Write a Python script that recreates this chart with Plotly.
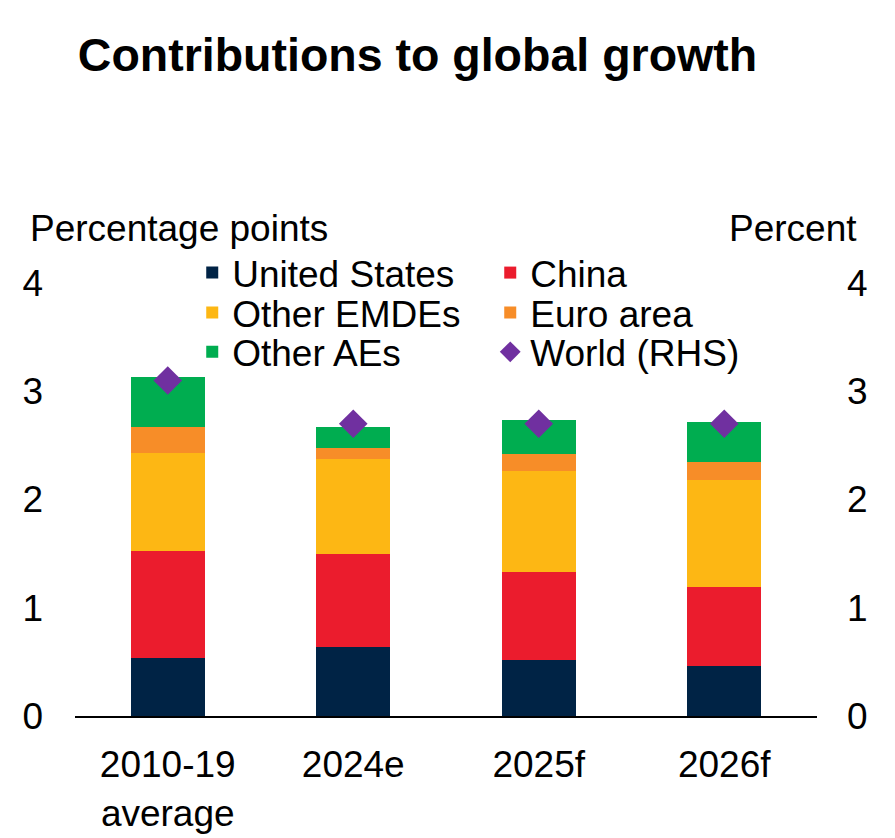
import plotly.graph_objects as go

categories = ["2010-19<br>average", "2024e", "2025f", "2026f"]
united_states = [0.54, 0.64, 0.52, 0.46]
china = [0.98, 0.86, 0.81, 0.73]
other_emdes = [0.91, 0.87, 0.93, 0.99]
euro_area = [0.24, 0.11, 0.16, 0.17]
other_aes = [0.46, 0.19, 0.31, 0.37]
world = [3.1, 2.7, 2.7, 2.7]
yticks = [0, 1, 2, 3, 4]

font_name = "Liberation Sans, Arial, sans-serif"

def plotChart():
    # (name, values, colour, legend row)
    series = [
        ("United States", united_states, "#002345", "legend"),
        ("China", china, "#EB1C2D", "legend"),
        ("Other EMDEs", other_emdes, "#FDB714", "legend2"),
        ("Euro area", euro_area, "#F78D28", "legend2"),
        ("Other AEs", other_aes, "#00AD50", "legend3"),
    ]
    data = []
    for name, vals, col, leg in series:
        data.append(go.Bar(x=categories, y=vals, name=name, legend=leg,
                           marker=dict(color=col, line=dict(width=0)),
                           width=0.4))
    data.append(go.Scatter(x=categories, y=world, name="World (RHS)", yaxis="y2",
                           legend="legend3", mode="markers",
                           marker=dict(symbol="diamond", size=22, color="#7030A0")))

    def leg_row(yp):
        return dict(orientation="h", x=0.158, xanchor="left", y=yp, yanchor="middle",
                    entrywidth=253, font=dict(size=37), bgcolor="rgba(0,0,0,0)",
                    traceorder="normal")

    layout = go.Layout(
        width=895, height=838,
        barmode="stack",
        plot_bgcolor="white", paper_bgcolor="white",
        margin=dict(l=67, r=86, t=275, b=122),
        font=dict(family=font_name, size=37, color="black"),
        title=dict(text="<b>Contributions to global growth</b>",
                   x=0.078, xanchor="left", y=0.944, yanchor="middle",
                   font=dict(size=46.5, color="black")),
        xaxis=dict(showgrid=False, showline=True, linecolor="black", linewidth=2,
                   ticks="", tickfont=dict(size=37), ticklabelstandoff=15),
        yaxis=dict(range=[0, 4], tickvals=yticks, showgrid=False, zeroline=False,
                   showline=False, ticks="", tickfont=dict(size=37),
                   ticklabelstandoff=31),
        yaxis2=dict(range=[0, 4], tickvals=yticks, overlaying="y", side="right",
                    showgrid=False, zeroline=False, showline=False, ticks="",
                    tickfont=dict(size=37), ticklabelstandoff=29),
        legend=leg_row(1.023),
        legend2=leg_row(0.931),
        legend3=leg_row(0.840),
        showlegend=True,
        annotations=[
            dict(text="Percentage points", xref="paper", yref="paper",
                 x=-0.063, y=1.126, xanchor="left", yanchor="middle",
                 showarrow=False, font=dict(size=37)),
            dict(text="Percent", xref="paper", yref="paper",
                 x=1.057, y=1.126, xanchor="right", yanchor="middle",
                 showarrow=False, font=dict(size=37)),
        ],
    )
    fig = go.Figure(data=data, layout=layout)
    fig.write_html("out.html")

def main():
    plotChart()

if __name__ == '__main__':
    main()
